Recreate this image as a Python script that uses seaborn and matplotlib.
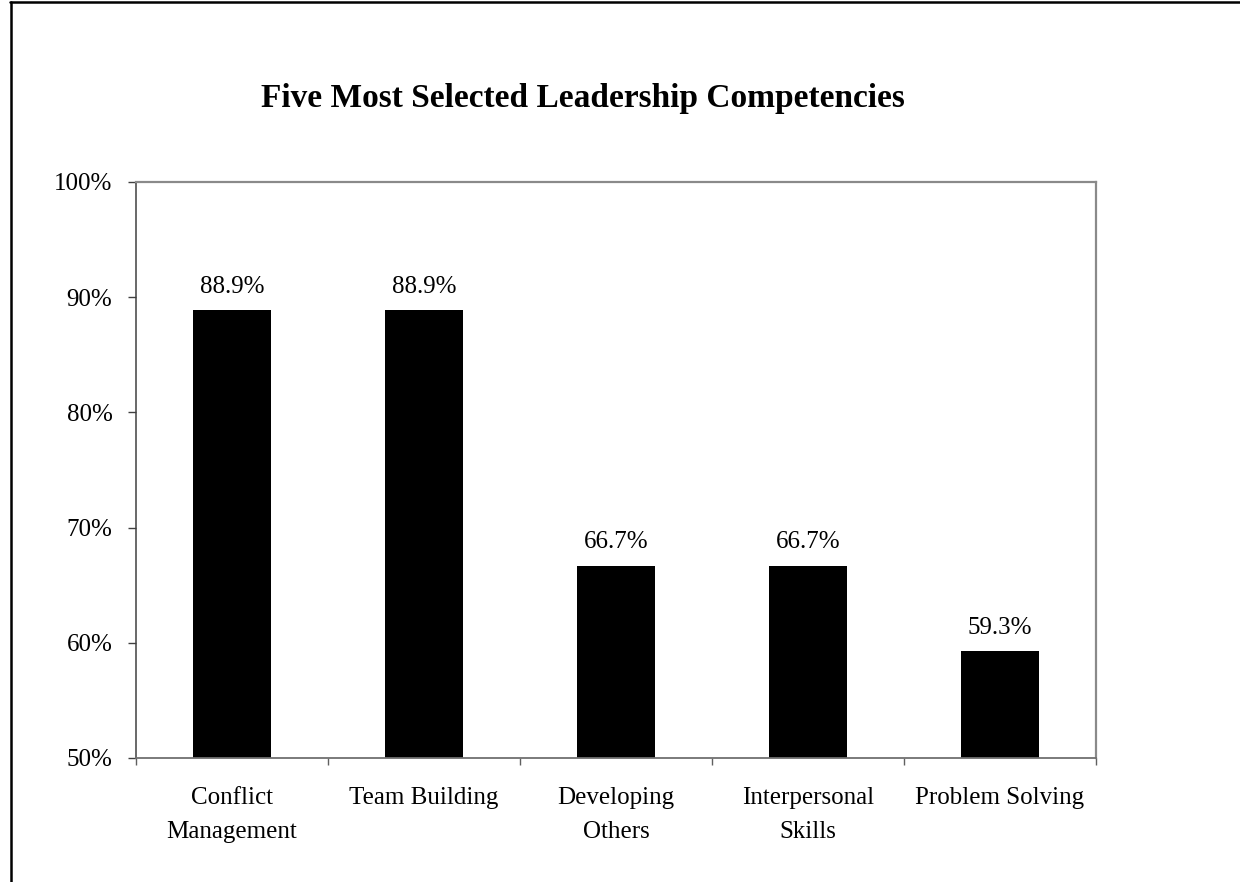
import matplotlib
matplotlib.use("Agg")
import matplotlib.pyplot as plt
from matplotlib.lines import Line2D
from matplotlib.ticker import FixedLocator, FuncFormatter
import seaborn as sns
import pandas as pd

competencies = ["Conflict\nManagement", "Team Building", "Developing\nOthers",
                "Interpersonal\nSkills", "Problem Solving"]
percent_selected = [88.9, 88.9, 66.7, 66.7, 59.3]
y_ticks = [50, 60, 70, 80, 90, 100]
title = "Five Most Selected Leadership Competencies"

sns.set_theme(style="white")
plt.rcParams["font.family"] = ["Liberation Serif", "DejaVu Serif"]
plt.rcParams["text.color"] = "black"
plt.rcParams["xtick.labelcolor"] = "black"
plt.rcParams["ytick.labelcolor"] = "black"

df = pd.DataFrame({"competency": competencies, "percent": percent_selected})

fig = plt.figure(figsize=(12.4, 8.82), dpi=100)
ax = fig.add_axes([136 / 1240, 1 - 758 / 882, 960 / 1240, 576 / 882])

sns.barplot(data=df, x="competency", y="percent", color="black",
            width=0.41, saturation=1, ax=ax, edgecolor="none")

ax.set_ylim(y_ticks[0], y_ticks[-1])
ax.set_xlim(-0.5, len(competencies) - 0.5)
ax.yaxis.set_major_locator(FixedLocator(y_ticks))
ax.yaxis.set_major_formatter(FuncFormatter(lambda v, _: f"{v:.0f}%"))

# category boundaries carry the tick marks, centres carry the labels
ax.xaxis.set_major_locator(FixedLocator([i - 0.5 for i in range(len(competencies) + 1)]))
ax.xaxis.set_major_formatter(FuncFormatter(lambda v, _: ""))
ax.xaxis.set_minor_locator(FixedLocator(range(len(competencies))))
ax.set_xticklabels(competencies, minor=True, fontsize=18, linespacing=1.72,
                   color="black")
ax.tick_params(axis="x", which="minor", length=0, pad=21, labelcolor="black")
ax.tick_params(axis="x", which="major", length=5, width=1, color="#606060",
               direction="out", bottom=True)
ax.tick_params(axis="y", which="major", length=6, width=1, color="#404040",
               direction="out", left=True, pad=11, labelsize=18, labelcolor="black")
ax.set_xlabel("")
ax.set_ylabel("")

for name in ["top", "right"]:
    ax.spines[name].set_color("#8a8a8a")
    ax.spines[name].set_linewidth(1.6)
ax.spines["left"].set_color("#404040")
ax.spines["left"].set_linewidth(1.1)
ax.spines["bottom"].set_color("#707070")
ax.spines["bottom"].set_linewidth(1.3)

for i, v in enumerate(percent_selected):
    ax.annotate(f"{v:.1f}%", xy=(i, v), xytext=(0, 12.5), textcoords="offset points",
                ha="center", va="baseline", fontsize=18, color="black")

fig.text(583 / 1240, 1 - 107 / 882, title, ha="center", va="baseline",
         fontsize=24, fontweight="bold", color="black")

# outer frame
fig.add_artist(Line2D([10 / 1240, 1.0], [1 - 2 / 882, 1 - 2 / 882],
                      transform=fig.transFigure, color="black", linewidth=1.8))
fig.add_artist(Line2D([11 / 1240, 11 / 1240], [0.0, 1 - 2 / 882],
                      transform=fig.transFigure, color="black", linewidth=1.8))

fig.savefig("out.png", dpi=100, facecolor="white")
